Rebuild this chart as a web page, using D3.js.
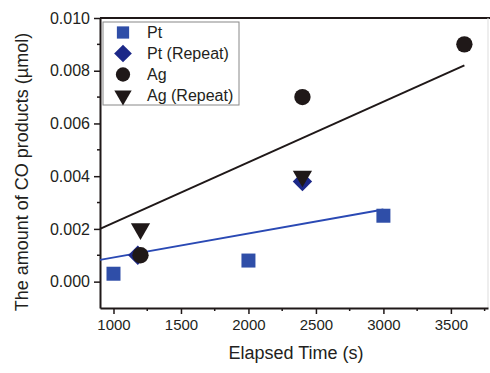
<!DOCTYPE html>
<html>
<head>
<meta charset="utf-8">
<script src="https://cdn.jsdelivr.net/npm/d3@7"></script>
<style>
  body { margin: 0; background: #fff; }
  text { font-family: "Liberation Sans", Arial, sans-serif; fill: #231f20; }
</style>
</head>
<body>
<div id="chart"></div>
<script>
// CO products vs elapsed time

const ptTime = [1000, 2000, 3000]
const ptValue = [0.0003, 0.0008, 0.0025]
const ptRepTime = [1180, 2400]
const ptRepValue = [0.001, 0.0038]
const agTime = [1200, 2400, 3600]
const agValue = [0.001, 0.007, 0.009]
const agRepTime = [1200, 2400]
const agRepValue = [0.002, 0.004]

// fitted lines, end points
const ptFitTime = [900, 3000]
const ptFitValue = [0.000825, 0.00274]
const agFitTime = [900, 3600]
const agFitValue = [0.002, 0.0082]

const xTicks = [1000, 1500, 2000, 2500, 3000, 3500]
const yTicks = [0.000, 0.002, 0.004, 0.006, 0.008, 0.010]

const legendLabels = ["Pt", "Pt (Repeat)", "Ag", "Ag (Repeat)"]

let width = 490
let height = 373
let margin = { top: 18, right: 2, bottom: 65, left: 100 }

const blue = "#2f4ea8"
const navy = "#1c2888"
const dark = "#1f1818"

var svg = d3.select("#chart")
    .append("svg")
    .attr("width", width)
    .attr("height", height)

var x = d3.scaleLinear()
    .domain([900, 3775])
    .range([margin.left, width - margin.right])

var y = d3.scaleLinear()
    .domain([-0.001, 0.010])
    .range([height - margin.bottom, margin.top])

// frame: top line and a faint right edge
svg.append("line")
    .attr("x1", x(900)).attr("x2", width)
    .attr("y1", y(0.010)).attr("y2", y(0.010))
    .attr("stroke", dark).attr("stroke-width", 2)
svg.append("line")
    .attr("x1", x(3775)).attr("x2", x(3775))
    .attr("y1", y(0.010)).attr("y2", y(-0.001))
    .attr("stroke", "#ddd").attr("stroke-width", 1)

// minor ticks
const xMinor = xTicks.map(d => d + 250).concat([750]).filter(d => d > 900 && d < 3775)
const yMinor = yTicks.map(d => d + 0.001).concat([-0.001]).filter(d => d > -0.001 && d < 0.010)

svg.selectAll(null)
    .data(xMinor)
    .enter()
    .append("line")
    .attr("x1", d => x(d)).attr("x2", d => x(d))
    .attr("y1", y(-0.001)).attr("y2", y(-0.001) + 3)
    .attr("stroke", dark).attr("stroke-width", 1.5)

svg.selectAll(null)
    .data(yMinor)
    .enter()
    .append("line")
    .attr("x1", x(900)).attr("x2", x(900) - 3)
    .attr("y1", d => y(d)).attr("y2", d => y(d))
    .attr("stroke", dark).attr("stroke-width", 1.5)

// axes
const xAxis = svg.append("g")
    .attr("transform", "translate(0," + y(-0.001) + ")")
    .call(d3.axisBottom(x).tickValues(xTicks).tickFormat(d3.format("d")).tickSize(6).tickSizeOuter(0).tickPadding(5))
xAxis.select(".domain").attr("stroke", dark).attr("stroke-width", 2)
xAxis.selectAll(".tick line").attr("stroke", dark).attr("stroke-width", 1.5)
xAxis.selectAll(".tick text")
    .style("font-size", "15px")
    .style("font-family", "Liberation Sans, Arial, sans-serif")
    .attr("fill", "#231f20")

const yAxis = svg.append("g")
    .attr("transform", "translate(" + x(900) + ",0)")
    .call(d3.axisLeft(y).tickValues(yTicks).tickFormat(d3.format(".3f")).tickSize(6).tickSizeOuter(0).tickPadding(4))
yAxis.select(".domain").attr("stroke", dark).attr("stroke-width", 2)
yAxis.selectAll(".tick line").attr("stroke", dark).attr("stroke-width", 1.5)
yAxis.selectAll(".tick text")
    .style("font-size", "16px")
    .style("font-family", "Liberation Sans, Arial, sans-serif")
    .attr("fill", "#231f20")

// axis titles
svg.append("text")
    .attr("x", 296)
    .attr("y", 359)
    .attr("text-anchor", "middle")
    .style("font-size", "18px")
    .text("Elapsed Time (s)")

svg.append("text")
    .attr("transform", "translate(28,172) rotate(-90)")
    .attr("text-anchor", "middle")
    .style("font-size", "18px")
    .text("The amount of CO products (\u00b5mol)")

// fit lines
var line = d3.line().x(d => x(d[0])).y(d => y(d[1]))

svg.append("path")
    .datum(agFitTime.map((t, i) => [t, agFitValue[i]]))
    .attr("d", line)
    .attr("fill", "none")
    .attr("stroke", dark)
    .attr("stroke-width", 2)

svg.append("path")
    .datum(ptFitTime.map((t, i) => [t, ptFitValue[i]]))
    .attr("d", line)
    .attr("fill", "none")
    .attr("stroke", "#2a49b4")
    .attr("stroke-width", 2)

// markers
const series = [
    { time: ptTime, value: ptValue, symbol: d3.symbolSquare, size: 196, color: blue, rotate: 0 },
    { time: ptRepTime, value: ptRepValue, symbol: d3.symbolDiamond2, size: 240, color: navy, rotate: 0 },
    { time: agTime, value: agValue, symbol: d3.symbolCircle, size: 210, color: dark, rotate: 0 },
    { time: agRepTime, value: agRepValue, symbol: d3.symbolTriangle, size: 160, color: dark, rotate: 180 }
]

series.forEach(s => {
    svg.selectAll(null)
        .data(s.time.map((t, i) => [t, s.value[i]]))
        .enter()
        .append("path")
        .attr("d", d3.symbol().type(s.symbol).size(s.size))
        .attr("transform", d => "translate(" + x(d[0]) + "," + y(d[1]) + ") rotate(" + s.rotate + ")")
        .attr("fill", s.color)
})

// legend
const legendSymbols = [
    { symbol: d3.symbolSquare, size: 150, color: blue, rotate: 0 },
    { symbol: d3.symbolDiamond2, size: 200, color: navy, rotate: 0 },
    { symbol: d3.symbolCircle, size: 160, color: dark, rotate: 0 },
    { symbol: d3.symbolTriangle, size: 130, color: dark, rotate: 180 }
]

const legend = svg.append("g")
    .attr("transform", "translate(103,22)")

legend.append("rect")
    .attr("width", 136)
    .attr("height", 83)
    .attr("fill", "#fff")
    .attr("stroke", "#888")
    .attr("stroke-width", 1)

legend.selectAll(null)
    .data(legendLabels)
    .enter()
    .append("path")
    .attr("d", (d, i) => d3.symbol().type(legendSymbols[i].symbol).size(legendSymbols[i].size)())
    .attr("transform", (d, i) => "translate(20," + (10.5 + i * 21) + ") rotate(" + legendSymbols[i].rotate + ")")
    .attr("fill", (d, i) => legendSymbols[i].color)

legend.selectAll(null)
    .data(legendLabels)
    .enter()
    .append("text")
    .attr("x", 44)
    .attr("y", (d, i) => 16 + i * 21)
    .style("font-size", "16px")
    .text(d => d)
</script>
</body>
</html>
